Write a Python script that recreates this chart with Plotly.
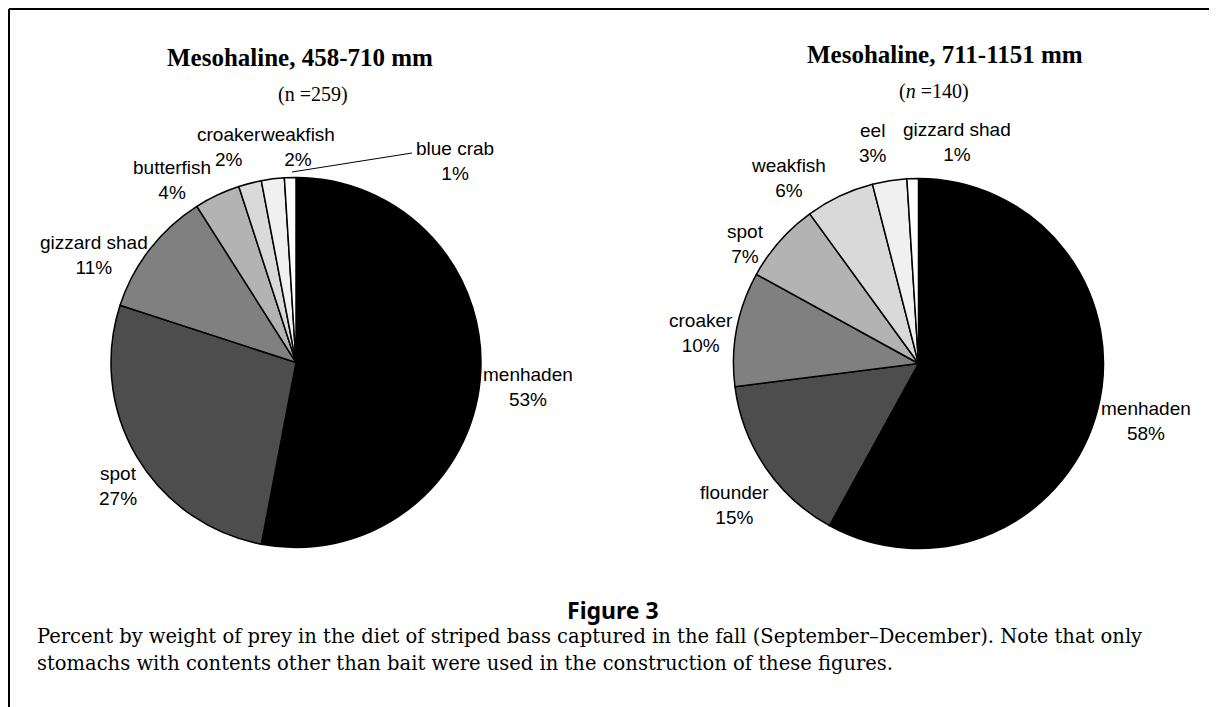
import plotly.graph_objects as go

# ---------------- data ----------------
left_labels = ["menhaden", "spot", "gizzard shad", "butterfish", "croaker", "weakfish", "blue crab"]
left_values = [53, 27, 11, 4, 2, 2, 1]

right_labels = ["menhaden", "flounder", "croaker", "spot", "weakfish", "eel", "gizzard shad"]
right_values = [58, 15, 10, 7, 6, 3, 1]

left_title = "Mesohaline, 458-710 mm"
left_n = "(n =259)"
right_title = "Mesohaline, 711-1151 mm"
right_n = "(<i>n</i> =140)"

fig_label = "Figure 3"
caption_lines = [
    "Percent by weight of prey in the diet of striped bass captured in the fall (September\u2013December). Note that only",
    "stomachs with contents other than bait were used in the construction of these figures.",
]

# ---------------- layout / style ----------------
PAGE_OFF = 8          # default body margin of the html page
W, H = 1217 - PAGE_OFF, 707 - PAGE_OFF
greys = ["#000000", "#4d4d4d", "#808080", "#b3b3b3", "#d9d9d9", "#f0f0f0", "#ffffff"]


def px(x):
    return (x - PAGE_OFF) / W


def py(y):
    return 1 - (y - PAGE_OFF) / H


R = 185
left_center = (296, 362.5)
right_center = (918.5, 363.5)


def domain(c):
    cx, cy = c
    return dict(x=[px(cx - R), px(cx + R)], y=[py(cy + R), py(cy - R)])


# label centres (pixels) for each slice, same order as data
left_label_pos = [(528, 386.5), (118, 486), (94, 255.5), (172, 180), (229, 147), (297, 147), (455, 161)]
right_label_pos = [(1146, 421), (734, 504.5), (701, 333), (745, 244), (788, 178.5), (873, 143), (957, 142)]

fig = go.Figure()
for labels, values, c in [(left_labels, left_values, left_center),
                          (right_labels, right_values, right_center)]:
    fig.add_trace(go.Pie(
        labels=labels, values=values, sort=False, direction="clockwise", rotation=0,
        textinfo="none", hoverinfo="label+percent",
        marker=dict(colors=greys[:len(values)], line=dict(color="#000000", width=1.5)),
        domain=domain(c), showlegend=False,
    ))

ann = []
label_font = dict(family="Liberation Sans, Arial, sans-serif", size=19, color="#000000")
for labels, values, pos in [(left_labels, left_values, left_label_pos),
                            (right_labels, right_values, right_label_pos)]:
    for lab, v, (x, y) in zip(labels, values, pos):
        ann.append(dict(x=px(x), y=py(y), text=f"{lab}<br>{v}%", font=label_font, align="center"))

title_font = dict(family="Liberation Serif, Times New Roman, serif", size=25, color="#000000")
sub_font = dict(family="Liberation Serif, Times New Roman, serif", size=20, color="#000000")
ann += [
    dict(x=px(300), y=py(57), text=f"<b>{left_title}</b>", font=title_font),
    dict(x=px(945), y=py(55), text=f"<b>{right_title}</b>", font=title_font),
    dict(x=px(313), y=py(94), text=left_n, font=sub_font),
    dict(x=px(934), y=py(91), text=right_n, font=sub_font),
    dict(x=px(613), y=py(610), text=f"<b>{fig_label}</b>",
         font=dict(family="Noto Sans, Open Sans, sans-serif", size=23, color="#000000")),
]
cap_font = dict(family="DejaVu Serif, serif", size=19.5, color="#000000")
for i, line in enumerate(caption_lines):
    ann.append(dict(x=px(35), y=py(636 + 27 * i), text=line, font=cap_font, xanchor="left"))

for a in ann:
    a.setdefault("xref", "paper")
    a.setdefault("yref", "paper")
    a.setdefault("showarrow", False)
    a.setdefault("yanchor", "middle")
    a.setdefault("xanchor", "center")

top_y = 1 - 1 / H
left_x = 1 / W
shapes = [
    # frame: top and left rules
    dict(type="line", xref="paper", yref="paper", x0=left_x, x1=1, y0=top_y, y1=top_y,
         line=dict(color="#000000", width=2)),
    dict(type="line", xref="paper", yref="paper", x0=left_x, x1=left_x, y0=top_y, y1=0,
         line=dict(color="#000000", width=2)),
    # leader line for blue crab
    dict(type="line", xref="paper", yref="paper", x0=px(292), y0=py(172), x1=px(412), y1=py(153),
         line=dict(color="#000000", width=1)),
]

fig.update_layout(
    width=W, height=H, margin=dict(l=0, r=0, t=0, b=0),
    paper_bgcolor="#ffffff", plot_bgcolor="#ffffff",
    annotations=ann, shapes=shapes, showlegend=False,
)

fig.write_html("out.html")
